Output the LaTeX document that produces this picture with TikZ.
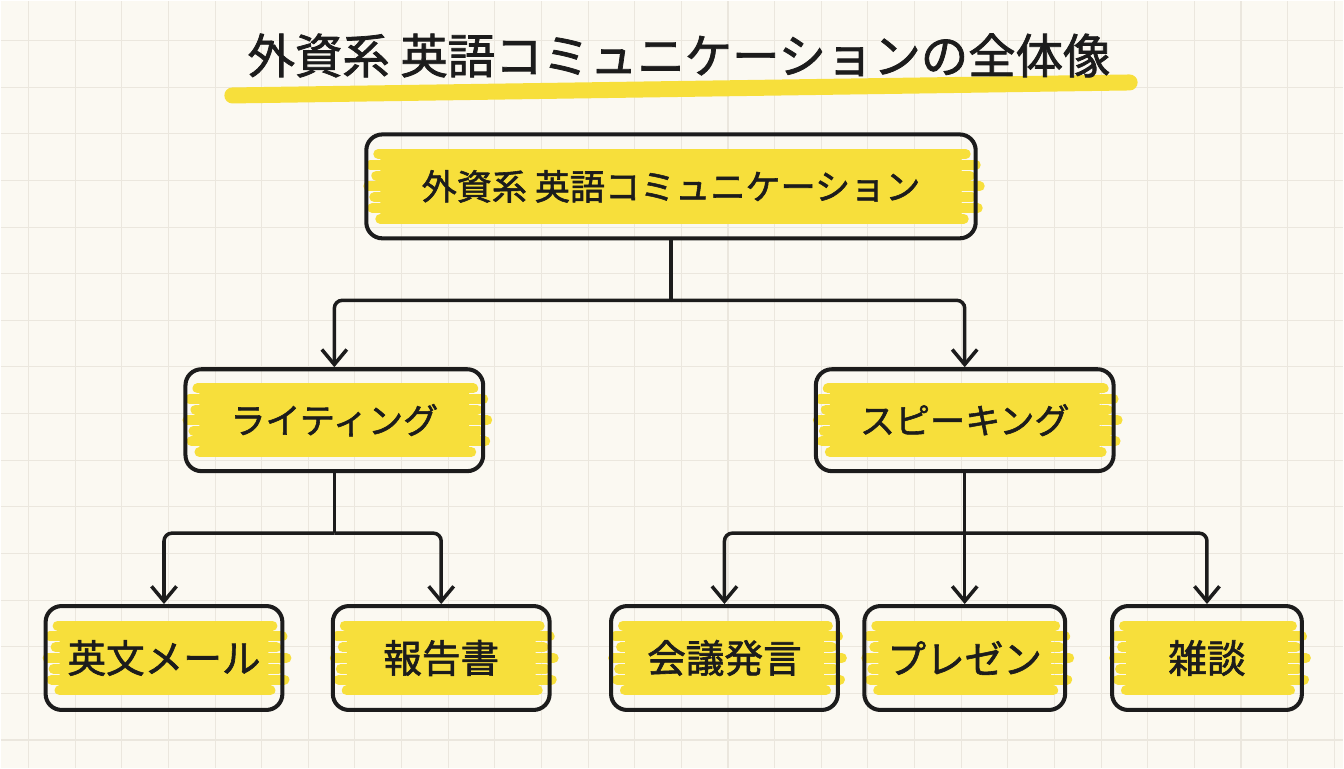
\documentclass[tikz,border=0pt]{standalone}
\usepackage{fontspec}
\newfontfamily\jp{Noto Sans CJK JP}[FakeBold=1.6]
\usepackage{xcolor}
\usetikzlibrary{arrows.meta, positioning, calc}
\definecolor{papercream}{HTML}{FBF9F2}
\definecolor{gridgray}{HTML}{EBE7DE}
\definecolor{hlyellow}{HTML}{F7DF3B}
\definecolor{ink}{HTML}{1C1C1C}
\pgfdeclarelayer{paperlayer}
\pgfdeclarelayer{markerlayer}
\pgfsetlayers{paperlayer,markerlayer,main}

\begin{document}
\begin{tikzpicture}[
    x=0.02cm, y=0.02cm,
    every node/.style={font=\jp, text=ink},
    rootbox/.style={rectangle, draw=ink, rounded corners=0.32cm, line width=2.3pt, minimum width=12.2cm, minimum height=2.08cm, font=\jp\fontsize{20}{24}\selectfont},
    midbox/.style={rectangle, draw=ink, rounded corners=0.32cm, line width=2.3pt, minimum width=5.96cm, minimum height=2.04cm, font=\jp\fontsize{20}{24}\selectfont},
    leafbox/.style={rectangle, draw=ink, rounded corners=0.32cm, line width=2.3pt, minimum height=2.08cm, font=\jp\fontsize{22}{26}\selectfont},
    arr/.style={-{Straight Barb[length=0.3cm, width=0.5cm]}, line width=2pt, draw=ink, rounded corners=0.16cm},
    stem/.style={line width=2pt, draw=ink},
    hlfill/.style={fill=hlyellow, rounded corners=3pt},
    streak/.style={draw=hlyellow, line width=0.2cm, line cap=round},
    gridline/.style={draw=gridgray, line width=0.6pt}
]
    % paper
    \begin{pgfonlayer}{paperlayer}
        \fill[papercream] (0,0) rectangle (1344,768);
        \foreach \i in {0,...,28} \draw[gridline] ({28+46.67*\i},0) -- ++(0,768);
        \foreach \j in {0,...,15} \draw[gridline] (0,{728-46.67*\j}) -- ++(1344,0);
    \end{pgfonlayer}

    \node (title) [font=\jp\fontsize{27}{31}\selectfont] at (679,713) {外資系 英語コミュニケーションの全体像};

    \node (root) [rootbox] at (671,582) {外資系 英語コミュニケーション};

    \node (write) [midbox, below=2.54cm of root, xshift=-6.74cm] {ライティング};
    \node (speak) [midbox, below=2.54cm of root, xshift=5.88cm] {スピーキング};

    \node (mail) [leafbox, minimum width=4.74cm, below=2.62cm of write, xshift=-3.41cm] {英文メール};
    \node (report) [leafbox, minimum width=4.34cm, below=2.62cm of write, xshift=2.14cm] {報告書};

    \node (meet) [leafbox, minimum width=4.54cm, below=2.62cm of speak, xshift=-4.81cm] {会議発言};
    \node (pres) [leafbox, minimum width=4.02cm, below=2.62cm of speak] {プレゼン};
    \node (chat) [leafbox, minimum width=3.8cm, below=2.62cm of speak, xshift=4.85cm] {雑談};

    % highlighter
    \begin{pgfonlayer}{markerlayer}
        \draw[streak, line width=0.32cm] (232,673) -- (1130,686);
        \foreach \n in {root,write,speak,mail,report,meet,pres,chat} {
            \fill[hlfill] ($(\n.north west)+(16,-18)$) rectangle ($(\n.south east)+(-16,18)$);
            \foreach \fr/\lo/\ro in {0.2/14/-12, 0.3/6/-2, 0.4/12/-8, 0.5/4/2, 0.6/10/-6, 0.7/8/0, 0.8/16/-14}
                \draw[streak] ($(\n.north west)!\fr!(\n.south west)+(\lo,0)$) -- ($(\n.north east)!\fr!(\n.south east)+(\ro,0)$);
        }
    \end{pgfonlayer}

    \coordinate (rootjoin) at ($(root.south)+(0,-60)$);
    \coordinate (writejoin) at ($(write.south)+(0,-60)$);
    \coordinate (speakjoin) at ($(speak.south)+(0,-60)$);

    \draw[stem] (root.south) -- (rootjoin);
    \draw[arr] (rootjoin) -| (write.north);
    \draw[arr] (rootjoin) -| (speak.north);

    \draw[stem] (write.south) -- (writejoin);
    \draw[arr] (writejoin) -| (mail.north);
    \draw[arr] (writejoin) -| (report.north);

    \draw[stem] (speak.south) -- (speakjoin);
    \draw[arr] (speakjoin) -| (meet.north);
    \draw[arr] (speakjoin) -- (pres.north);
    \draw[arr] (speakjoin) -| (chat.north);
\end{tikzpicture}
\end{document}
